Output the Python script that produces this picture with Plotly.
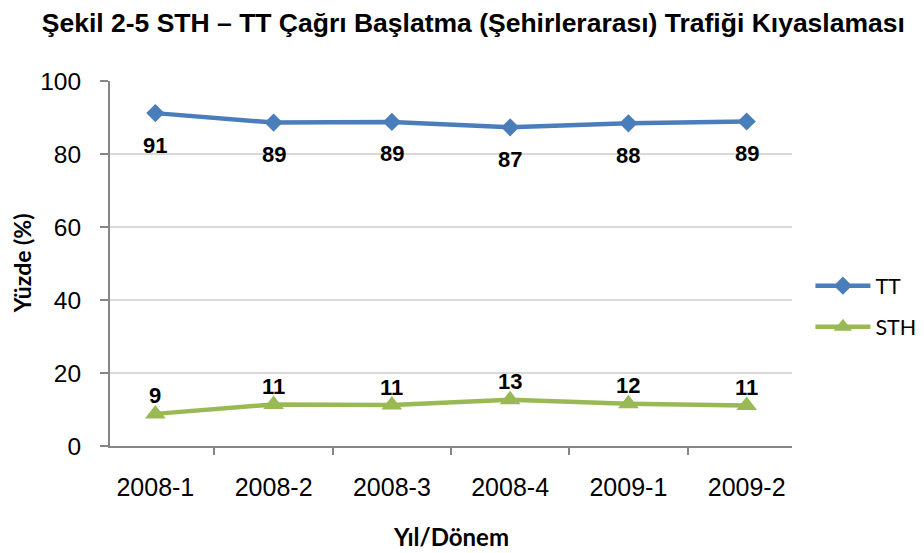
import plotly.graph_objects as go

periods = ["2008-1", "2008-2", "2008-3", "2008-4", "2009-1", "2009-2"]
tt_values = [91.2, 88.6, 88.8, 87.3, 88.4, 88.9]
sth_values = [8.8, 11.4, 11.2, 12.7, 11.6, 11.1]
tt_labels = ["91", "89", "89", "87", "88", "89"]
sth_labels = ["9", "11", "11", "13", "12", "11"]
y_ticks = [0, 20, 40, 60, 80, 100]

TT_COLOR = "#4a7ebb"
STH_COLOR = "#98b954"
ARIAL = "Liberation Sans, Arial, sans-serif"
CALIBRI = "Lato, Calibri, sans-serif"

fig = go.Figure()
fig.add_trace(go.Scatter(
    x=periods, y=tt_values, name="TT", mode="lines+markers",
    line=dict(color=TT_COLOR, width=4.5),
    marker=dict(symbol="diamond", size=14, color=TT_COLOR),
    legendgroup="a",
))
fig.add_trace(go.Scatter(
    x=periods, y=sth_values, name="STH", mode="lines+markers",
    line=dict(color=STH_COLOR, width=4.5),
    marker=dict(symbol="triangle-up", size=18, color=STH_COLOR),
    legendgroup="b",
))

annotations = []
for p, v, t in zip(periods, tt_values, tt_labels):
    annotations.append(dict(x=p, y=v, text=t, showarrow=False, yshift=-32,
                            font=dict(family=ARIAL, size=22, color="#000000", weight="bold")))
for p, v, t in zip(periods, sth_values, sth_labels):
    annotations.append(dict(x=p, y=v, text=t, showarrow=False, yshift=18,
                            font=dict(family=ARIAL, size=22, color="#000000", weight="bold")))
# axis titles
annotations.append(dict(text="<b>Yüzde (%)</b>", xref="paper", yref="paper", x=-0.129, y=0.501,
                        xanchor="center", yanchor="middle", textangle=-90, showarrow=False,
                        font=dict(family=CALIBRI, size=23, color="#000000")))
annotations.append(dict(text="<b>Yıl/Dönem</b>", xref="paper", yref="paper", x=0.5, y=-0.249,
                        xanchor="center", yanchor="middle", showarrow=False,
                        font=dict(family=CALIBRI, size=24, color="#000000")))

fig.update_layout(
    width=916, height=545,
    margin=dict(l=102, r=132, t=73, b=107),
    paper_bgcolor="white", plot_bgcolor="white",
    title=dict(text="<b>Şekil 2-5 STH – TT Çağrı Başlatma (Şehirlerarası) Trafiği Kıyaslaması</b>",
               x=0.508, xref="container", xanchor="center", y=0.973, yref="container", yanchor="middle",
               font=dict(family=ARIAL, size=26.5, color="#000000")),
    showlegend=True,
    legend=dict(xref="container", yref="container", x=0.876, xanchor="left", y=0.528, yanchor="top",
                font=dict(family=CALIBRI, size=21.5, color="#000000"),
                itemwidth=55, tracegroupgap=10, bgcolor="rgba(0,0,0,0)"),
    annotations=annotations,
)

fig.update_xaxes(
    type="category", showline=True, linecolor="#868686", linewidth=2,
    ticks="outside", tickson="boundaries", ticklen=7, tickcolor="#868686", tickwidth=2,
    showgrid=False, automargin=False,
    tickfont=dict(family=ARIAL, size=25, color="#000000"),
    ticklabelstandoff=18,
)
fig.update_yaxes(
    range=[0, 100], tickvals=y_ticks, showline=True, linecolor="#868686", linewidth=2,
    ticks="outside", ticklen=8, tickcolor="#868686", tickwidth=2,
    showgrid=True, gridcolor="#d9d9d9", gridwidth=1.5, zeroline=False, automargin=False,
    tickfont=dict(family=ARIAL, size=24.5, color="#000000"),
    ticklabelstandoff=14,
)

fig.write_html("out.html")
